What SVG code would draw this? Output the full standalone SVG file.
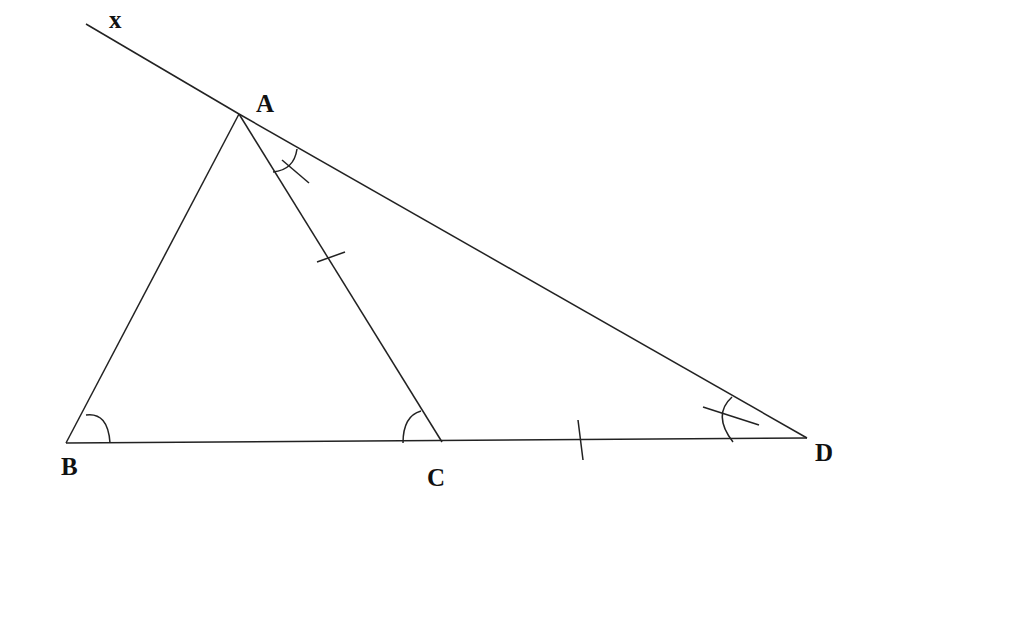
<svg xmlns="http://www.w3.org/2000/svg" width="1024" height="627" viewBox="0 0 1024 627">
<style>
.l{stroke:#222;stroke-width:1.5;fill:none}
.t{font-family:"Liberation Serif",serif;font-weight:bold;font-size:25px;fill:#111}
</style>
<rect width="1024" height="627" fill="#fff"/>
<g id="connectors">
<path class="l" d="M86,24 L239,114"/>
<path class="l" d="M239,114 L807,438"/>
<path class="l" d="M239,114 L66,443"/>
<path class="l" d="M239,114 L442,442"/>
<path class="l" d="M66,443 L807,438"/>
</g>
<g id="marks">
<path class="l" d="M273,172 Q294,170 297,149"/>
<path class="l" d="M282,160 L309,183"/>
<path class="l" d="M86,415 Q108,412 110,443"/>
<path class="l" d="M403,443 Q403,416 421,411"/>
<path class="l" d="M732,397 Q712,415 733,442"/>
<path class="l" d="M703,407 L759,425"/>
<path class="l" d="M317,262 L345,252"/>
<path class="l" d="M578,420 L583,460"/>
</g>
<g id="x"><text class="t" x="109" y="28">x</text></g>
<g id="A"><text class="t" x="256" y="112">A</text></g>
<g id="B"><text class="t" x="61" y="475">B</text></g>
<g id="C"><text class="t" x="427" y="486">C</text></g>
<g id="D"><text class="t" x="815" y="461">D</text></g>
</svg>
